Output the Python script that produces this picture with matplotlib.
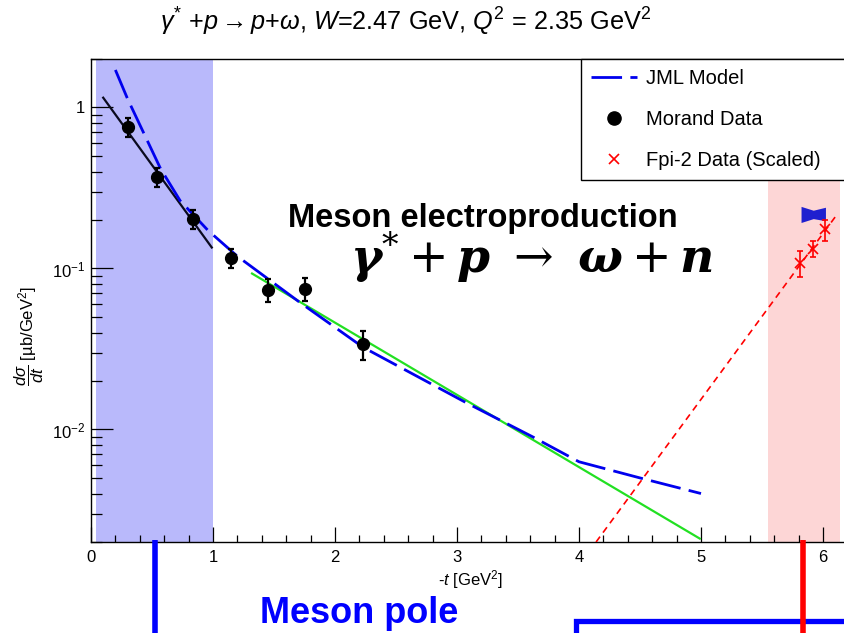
import matplotlib
matplotlib.use("Agg")
import matplotlib.pyplot as plt
from matplotlib.lines import Line2D
from matplotlib.patches import Rectangle
from matplotlib import transforms
from matplotlib.ticker import LogLocator, NullFormatter, FixedLocator, MultipleLocator
import numpy as np

plt.rcParams['font.family'] = ['Liberation Sans', 'DejaVu Sans']
plt.rcParams['mathtext.fontset'] = 'custom'
plt.rcParams['mathtext.rm'] = 'Liberation Sans'
plt.rcParams['mathtext.it'] = 'Liberation Sans:italic'
plt.rcParams['mathtext.bf'] = 'Liberation Sans:bold'

# ---------------- data ----------------
morand_t = [0.30, 0.54, 0.84, 1.15, 1.45, 1.75, 2.23]
morand_y = [0.76, 0.37, 0.204, 0.116, 0.074, 0.075, 0.034]
morand_err = [0.10, 0.05, 0.028, 0.016, 0.012, 0.012, 0.007]

jml_t = [0.20, 0.30, 0.57, 0.73, 0.96, 1.20, 1.71, 2.23, 3.08, 3.62, 4.00, 4.50, 5.00]
jml_y = [1.71, 1.13, 0.417, 0.264, 0.172, 0.119, 0.0617, 0.0324, 0.0146, 0.0090, 0.0063, 0.0050, 0.0040]

black_t = [0.10, 0.99]
black_y = [1.15, 0.135]

green_t = [1.32, 4.99]
green_y = [0.093, 0.0021]

fpi_t = [5.81, 5.92, 6.02]
fpi_y = [0.108, 0.133, 0.175]
fpi_err = [0.020, 0.016, 0.026]

fpi_fit_t = [4.14, 6.11]
fpi_fit_y = [0.002, 0.214]

band_t = [5.82, 5.92, 6.02]
band_hi = [0.243, 0.230, 0.240]
band_lo = [0.193, 0.204, 0.198]

pole_region = [0.04, 1.0]
high_t_region = [5.55, 6.14]
pole_marker_t = 0.525
fpi_marker_t = 5.84

# ---------------- figure ----------------
W, H = 844, 633
fig = plt.figure(figsize=(W / 100, H / 100), dpi=100)
ax_left, ax_right, ax_top, ax_bot = 91, 850, 59, 542
ax = fig.add_axes([ax_left / W, 1 - ax_bot / H, (ax_right - ax_left) / W, (ax_bot - ax_top) / H])

ax.axvspan(*pole_region, color='#b9b9fb', lw=0, zorder=0)
ax.axvspan(*high_t_region, color='#fdd6d6', lw=0, zorder=0)

ax.plot(black_t, black_y, color='#0a0a1e', lw=1.6, zorder=3)
ax.plot(green_t, green_y, color='#22e022', lw=1.6, zorder=3)
ax.plot(jml_t, jml_y, color='#0000ee', lw=2.0, dashes=(11, 3), zorder=4)
ax.plot(fpi_fit_t, fpi_fit_y, color='#ff0000', lw=1.2, dashes=(4, 3), zorder=3)

ax.fill_between(band_t, band_lo, band_hi, color='#1f1fcf', lw=0, zorder=4)

ax.errorbar(morand_t, morand_y, yerr=morand_err, fmt='o', color='black', ms=8.5,
            elinewidth=1.6, capsize=2.2, capthick=1.6, zorder=5)
ax.errorbar(fpi_t, fpi_y, yerr=fpi_err, fmt='x', color='#ff0000', ms=7, mew=1.2,
            elinewidth=1.2, capsize=2.5, capthick=1.2, zorder=5)

ax.set_yscale('log')
ax.set_xlim(0, (ax_right - ax_left) / 122.0)
ax.set_ylim(0.002, 2.0)

ax.xaxis.set_major_locator(MultipleLocator(1))
ax.xaxis.set_minor_locator(MultipleLocator(0.2))
ax.yaxis.set_major_locator(FixedLocator([0.01, 0.1, 1]))
ax.yaxis.set_minor_locator(LogLocator(base=10, subs=np.arange(2, 10)))
ax.yaxis.set_minor_formatter(NullFormatter())
ax.set_yticklabels([r'$10^{-2}$', r'$10^{-1}$', '1'])

ax.tick_params(axis='x', which='major', direction='in', length=11, width=0.9, labelsize=12, pad=6)
ax.tick_params(axis='x', which='minor', direction='in', length=5, width=0.9)
ax.tick_params(axis='y', which='major', direction='in', length=16, width=0.9, labelsize=12, pad=4)
ax.tick_params(axis='y', which='minor', direction='in', length=8, width=0.9)
ax.tick_params(top=False, right=False, which='both')
for s in ax.spines.values():
    s.set_linewidth(1.0)

ax.set_xlabel(r'-$t$ [GeV$^{2}$]', fontsize=12, labelpad=2)
ax.set_ylabel(r'$\dfrac{d\sigma}{dt}$ [µb/GeV$^{2}$]', fontsize=12, va='center')
ax.yaxis.set_label_coords((29 - ax_left) / (ax_right - ax_left), 1 - (336 - ax_top) / (ax_bot - ax_top))

handles = [
    Line2D([], [], color='#0000ee', lw=2.0, dashes=(11, 3)),
    Line2D([], [], marker='o', color='black', ls='none', ms=9.5),
    Line2D([], [], marker='x', color='#ff0000', ls='none', ms=7, mew=1.2),
]
labels = ['JML Model', 'Morand Data', 'Fpi-2 Data (Scaled)']
leg = ax.legend(handles, labels, loc='upper left',
                bbox_to_anchor=(581 / W, 1 - 59 / H, 0.4, 0), bbox_transform=fig.transFigure,
                mode='expand', frameon=True, fancybox=False, edgecolor='black', framealpha=1,
                fontsize=14.5, handlelength=2.3, handletextpad=0.45, labelspacing=1.1,
                borderpad=0.5, borderaxespad=0)
leg.get_frame().set_linewidth(1.0)
leg.set_zorder(10)

# ---------------- text ----------------
fig.text(406 / W, 1 - 22 / H,
         r'$\gamma^{*}$ +$p\rightarrow p$+$\omega$, $W$=2.47 GeV, $Q^{2}$ = 2.35 GeV$^{2}$',
         ha='center', va='center', fontsize=18.2)

fig.text(288 / W, 1 - 218 / H, 'Meson electroproduction', ha='left', va='center',
         fontsize=23.5, fontweight='bold', color='black')
fig.text(350 / W, 1 - 274 / H,
         r'$\mathbfit{\gamma}^{*} + \mathbfit{p}\ \rightarrow\ \mathbfit{\omega} + \mathbfit{n}$',
         ha='left', va='baseline', fontsize=34, math_fontfamily='dejavuserif', color='black')

fig.text(260 / W, 1 - 623 / H, 'Meson pole', ha='left', va='baseline',
         fontsize=26, fontweight='bold', color='#0000ff')

# ---------------- annotation lines below the axes ----------------
blend = transforms.blended_transform_factory(ax.transData, fig.transFigure)
fig.add_artist(Line2D([pole_marker_t, pole_marker_t], [1 - 540 / H, -0.05], transform=blend,
                      color='#0000ff', lw=4, solid_capstyle='butt', clip_on=False))
fig.add_artist(Line2D([fpi_marker_t, fpi_marker_t], [1 - 540 / H, -0.05], transform=blend,
                      color='#ff0000', lw=4, solid_capstyle='butt', clip_on=False))
fig.add_artist(Rectangle((576 / W, 1 - 621 / H - 0.2), 0.5, 0.2, transform=fig.transFigure,
                         fill=False, edgecolor='#0000ff', lw=3.8, clip_on=False))

fig.savefig('out.png', dpi=100)
